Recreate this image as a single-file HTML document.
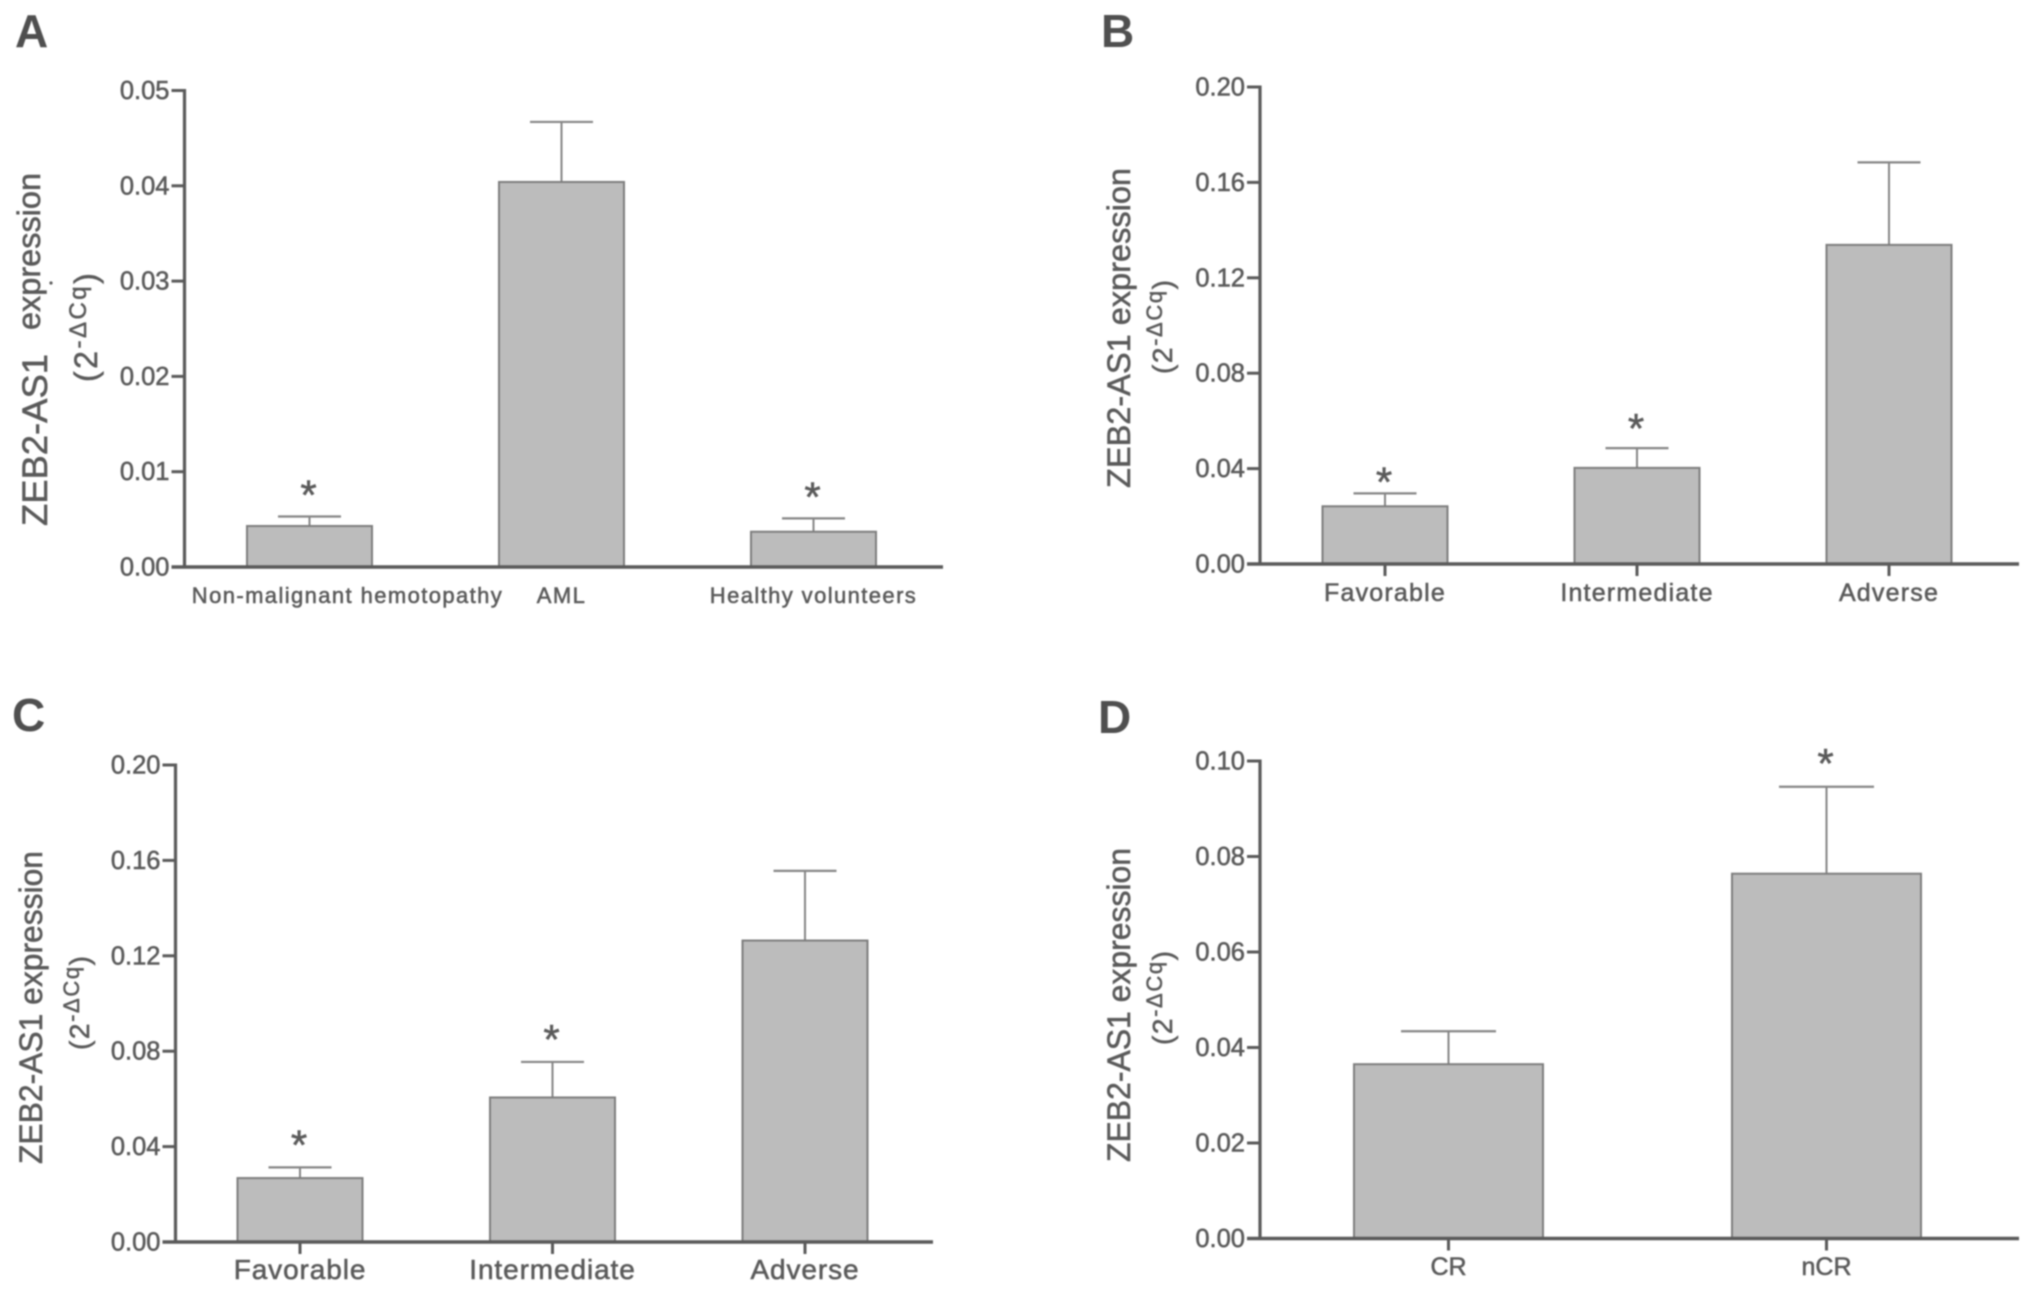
<!DOCTYPE html>
<html lang="en">
<head>
<meta charset="utf-8">
<title>ZEB2-AS1 expression panels</title>
<style>
html,body{margin:0;padding:0;background:#fff;width:2031px;height:1292px;overflow:hidden}
svg{display:block;filter:blur(0.8px)}
text{font-family:"Liberation Sans",sans-serif;fill:#5a5a5a;stroke:#5a5a5a;stroke-width:0.55px}
.letter{font-size:46px;font-weight:bold;fill:#4f4f4f;stroke:none}
</style>
</head>
<body>
<svg id="figure" xmlns="http://www.w3.org/2000/svg" width="2031" height="1292" viewBox="0 0 2031 1292">
  <rect width="2031" height="1292" fill="#fff"/>

  <text class="letter" x="15" y="47">A</text>
  <text class="letter" x="1101" y="47">B</text>
  <text class="letter" x="12" y="731">C</text>
  <text class="letter" x="1098" y="733">D</text>

  <g>
    <text transform="translate(47,526) rotate(-90)" font-size="35" textLength="172" lengthAdjust="spacingAndGlyphs">ZEB2-AS1</text>
    <text transform="translate(40,330) rotate(-90)" font-size="32" textLength="157" lengthAdjust="spacingAndGlyphs">expression</text>
    <circle cx="51" cy="283" r="1.6" fill="#5c5c5c"/>
    <text transform="translate(97,382) rotate(-90)" font-size="32" letter-spacing="2.5">(2<tspan font-size="24" dy="-11">-ΔCq</tspan><tspan dy="11">)</tspan></text>
  </g>
  <g>
    <text transform="translate(1130,488) rotate(-90)" font-size="32" textLength="320" lengthAdjust="spacingAndGlyphs">ZEB2-AS1 expression</text>
    <text transform="translate(1172,374) rotate(-90)" font-size="28" letter-spacing="1.6">(2<tspan font-size="22" dy="-10">-ΔCq</tspan><tspan dy="10">)</tspan></text>
  </g>
  <g>
    <text transform="translate(42,1164) rotate(-90)" font-size="32" textLength="313" lengthAdjust="spacingAndGlyphs">ZEB2-AS1 expression</text>
    <text transform="translate(89,1050) rotate(-90)" font-size="28" letter-spacing="1.6">(2<tspan font-size="22" dy="-10">-ΔCq</tspan><tspan dy="10">)</tspan></text>
  </g>
  <g>
    <text transform="translate(1130,1162) rotate(-90)" font-size="32" textLength="314" lengthAdjust="spacingAndGlyphs">ZEB2-AS1 expression</text>
    <text transform="translate(1172,1045) rotate(-90)" font-size="28" letter-spacing="1.6">(2<tspan font-size="22" dy="-10">-ΔCq</tspan><tspan dy="10">)</tspan></text>
  </g>
</svg>

<script>
// Panel A data
const categoriesA = ["Non-malignant hemotopathy", "AML", "Healthy volunteers"];
const meansA = [0.0043, 0.0404, 0.0037];
const errorsA = [0.0010, 0.0063, 0.0014];
const significantA = [true, false, true];
const tickValuesA = [0, 0.01, 0.02, 0.03, 0.04, 0.05];
const tickLabelsA = ["0.00", "0.01", "0.02", "0.03", "0.04", "0.05"];

// Panel B data
const categoriesB = ["Favorable", "Intermediate", "Adverse"];
const meansB = [0.0242, 0.0403, 0.1338];
const errorsB = [0.0054, 0.0083, 0.0346];
const significantB = [true, true, false];
const tickValuesB = [0, 0.04, 0.08, 0.12, 0.16, 0.20];
const tickLabelsB = ["0.00", "0.04", "0.08", "0.12", "0.16", "0.20"];

// Panel C data
const categoriesC = ["Favorable", "Intermediate", "Adverse"];
const meansC = [0.0268, 0.0606, 0.1264];
const errorsC = [0.0045, 0.0149, 0.0292];
const significantC = [true, true, false];
const tickValuesC = [0, 0.04, 0.08, 0.12, 0.16, 0.20];
const tickLabelsC = ["0.00", "0.04", "0.08", "0.12", "0.16", "0.20"];

// Panel D data
const categoriesD = ["CR", "nCR"];
const meansD = [0.0365, 0.0764];
const errorsD = [0.0069, 0.0182];
const significantD = [false, true];
const tickValuesD = [0, 0.02, 0.04, 0.06, 0.08, 0.10];
const tickLabelsD = ["0.00", "0.02", "0.04", "0.06", "0.08", "0.10"];

const svg = document.getElementById('figure');
const NS = 'http://www.w3.org/2000/svg';

function make(parent, tag, name, attrs, content) {
  const el = document.createElementNS(NS, tag);
  
  
  for (const k in attrs) el.setAttribute(k, attrs[k]);
  if (content !== undefined) el.textContent = content;
  parent.appendChild(el);
  return el;
}

function drawPanel(id, d, g) {
  const yMax = d.ticks[d.ticks.length - 1];
  const yScale = v => g.base - (v / yMax) * (g.base - g.top);
  const xScale = i => g.first + i * g.step;
  const group = make(svg, 'g', 'bar-chart-' + id, {});

  d.means.forEach((m, i) => {
    const cx = xScale(i);
    const slug = d.cats[i].toLowerCase().replace(/\s+/g, '-');
    const errY = yScale(m + d.errs[i]);
    const topY = yScale(m);
    make(group, 'line', 'error-stem-' + slug, {x1: cx, x2: cx, y1: topY, y2: errY, stroke: '#858585', 'stroke-width': 2});
    make(group, 'line', 'error-cap-' + slug, {x1: cx - g.cap / 2, x2: cx + g.cap / 2, y1: errY, y2: errY, stroke: '#858585', 'stroke-width': 2.2});
    make(group, 'rect', 'bar-' + slug, {x: cx - g.barW / 2, y: topY, width: g.barW, height: g.base - topY, fill: '#bcbcbc', stroke: '#7d7d7d', 'stroke-width': 2});
    if (d.sig[i]) {
      const lift = g.starLift(i);
      make(group, 'text', 'significance-star-' + slug, {x: cx - 1, y: errY - lift + 24, 'text-anchor': 'middle', 'font-size': 42}, '*');
    }
    if (g.xTicks) {
      make(group, 'line', 'x-tick-' + slug, {x1: cx, x2: cx, y1: g.base, y2: g.base + 12, stroke: '#5a5a5a', 'stroke-width': 3});
    }
    const lx = cx + (g.labelShift ? g.labelShift(i) : 0);
    make(group, 'text', 'x-label-' + slug, {x: lx, y: g.labelY, 'text-anchor': 'middle', 'font-size': g.labelSize, 'letter-spacing': g.labelSpacing}, d.cats[i]);
  });

  make(group, 'line', 'y-axis-' + id, {x1: g.axis, x2: g.axis, y1: yScale(yMax) - 1.5, y2: g.base + 1.5, stroke: '#5a5a5a', 'stroke-width': 3.2});
  make(group, 'line', 'x-axis-' + id, {x1: g.axis - 13, x2: g.end, y1: g.base, y2: g.base, stroke: '#5a5a5a', 'stroke-width': 3.6});

  d.ticks.forEach((t, i) => {
    const y = yScale(t);
    make(group, 'line', 'y-tick-' + d.tickLabels[i], {x1: g.axis - 13, x2: g.axis, y1: y, y2: y, stroke: '#5a5a5a', 'stroke-width': 3});
    make(group, 'text', 'y-tick-label-' + d.tickLabels[i], {x: g.axis - 15, y: y + 8.5, 'text-anchor': 'end', 'font-size': 25.5}, d.tickLabels[i]);
  });
}

drawPanel('a',
  {cats: categoriesA, means: meansA, errs: errorsA, sig: significantA, ticks: tickValuesA, tickLabels: tickLabelsA},
  {axis: 184.5, top: 90.5, base: 567, end: 943, first: 309.5, step: 252, barW: 125, cap: 63, xTicks: false,
   labelY: 603, labelSize: 22, labelSpacing: 1.4, labelShift: i => (i === 0 ? 38 : 0), starLift: i => 31});
drawPanel('b',
  {cats: categoriesB, means: meansB, errs: errorsB, sig: significantB, ticks: tickValuesB, tickLabels: tickLabelsB},
  {axis: 1260, top: 87, base: 564, end: 2019, first: 1385, step: 252, barW: 125, cap: 63, xTicks: true,
   labelY: 601, labelSize: 25, labelSpacing: 1.2, starLift: i => (i === 0 ? 21 : 29)});
drawPanel('c',
  {cats: categoriesC, means: meansC, errs: errorsC, sig: significantC, ticks: tickValuesC, tickLabels: tickLabelsC},
  {axis: 175.5, top: 765, base: 1242, end: 933, first: 300, step: 252.5, barW: 125, cap: 63, xTicks: true,
   labelY: 1279, labelSize: 28, labelSpacing: 0.9, starLift: i => 32});
drawPanel('d',
  {cats: categoriesD, means: meansD, errs: errorsD, sig: significantD, ticks: tickValuesD, tickLabels: tickLabelsD},
  {axis: 1260, top: 761, base: 1238.5, end: 2019, first: 1448.5, step: 378, barW: 189, cap: 95, xTicks: true,
   labelY: 1275, labelSize: 25, labelSpacing: 0, starLift: i => 33});
</script>
</body>
</html>
